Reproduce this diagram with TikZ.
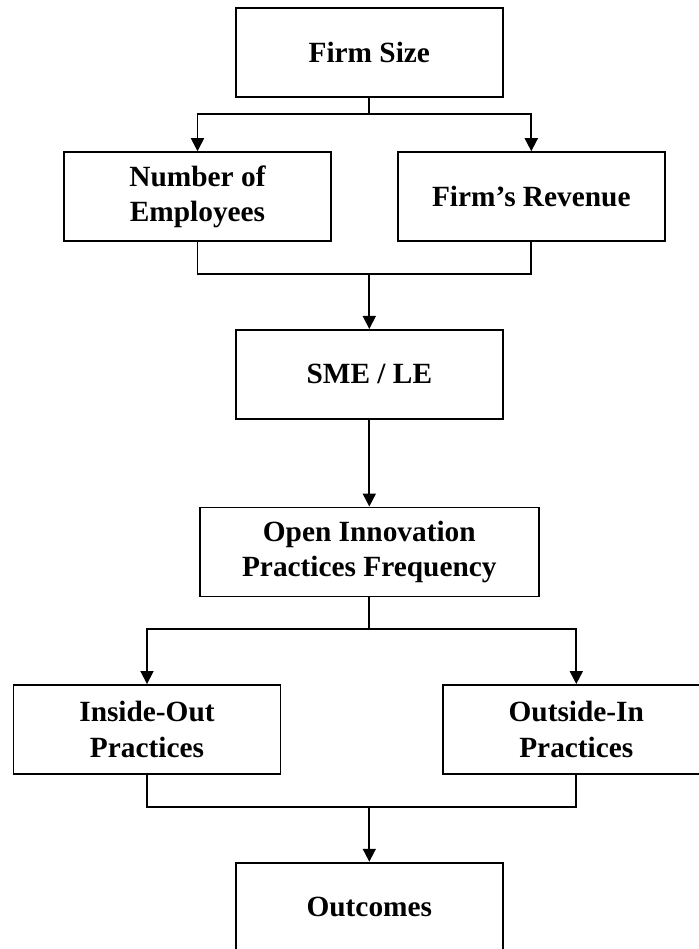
\documentclass[tikz,border=0pt]{standalone}
\usepackage{fontspec}
\setmainfont{Liberation Serif}
\usepackage{tikz}
\usetikzlibrary{arrows.meta,positioning}

\begin{document}
\begin{tikzpicture}[
  x=0.02cm, y=-0.02cm,
  box/.style={draw=black, line width=1.1pt, align=center, fill=white,
  inner sep=0pt, minimum width=5.34cm, minimum height=1.78cm,
  font=\fontsize{16.7}{20.2}\selectfont\bfseries},
  widebox/.style={box, minimum width=6.78cm},
  arrow/.style={-{Triangle[length=2.6mm,width=2.6mm]}, line width=1pt, draw=black},
  link/.style={line width=1pt, draw=black}
]
\clip (0,0) rectangle (699,949);
\useasboundingbox (0,0) rectangle (699,949);

\node[box] (size) at (369.3,52.8) {Firm Size};
\node[box] (employees) at (197.5,196.7) {Number of\\Employees};
\node[box] (revenue) at (531.3,196.7) {Firm’s Revenue};
\node[box] (smele) at (369.3,374.4) {SME / LE};
\node[widebox] (openinno) at (369.3,552) {Open Innovation\\Practices Frequency};
\node[box] (insideout) at (147,729.5) {Inside-Out\\Practices};
\node[box] (outsidein) at (576.3,729.5) {Outside-In\\Practices};
\node[box] (outcomes) at (369.3,907.2) {Outcomes};

\coordinate (split1) at (369.3,114);
\coordinate (join1) at (369.3,274);
\coordinate (split2) at (369.3,629.3);
\coordinate (join2) at (369.3,807.3);

\draw[link] (size.south) -- (split1);
\draw[arrow] (split1) -| (employees.north);
\draw[arrow] (split1) -| (revenue.north);
\draw[link] (employees.south) |- (join1);
\draw[link] (revenue.south) |- (join1);
\draw[arrow] (join1) -- (smele.north);
\draw[arrow] (smele) -- (openinno);
\draw[link] (openinno.south) -- (split2);
\draw[arrow] (split2) -| (insideout.north);
\draw[arrow] (split2) -| (outsidein.north);
\draw[link] (insideout.south) |- (join2);
\draw[link] (outsidein.south) |- (join2);
\draw[arrow] (join2) -- (outcomes.north);
\end{tikzpicture}
\end{document}
